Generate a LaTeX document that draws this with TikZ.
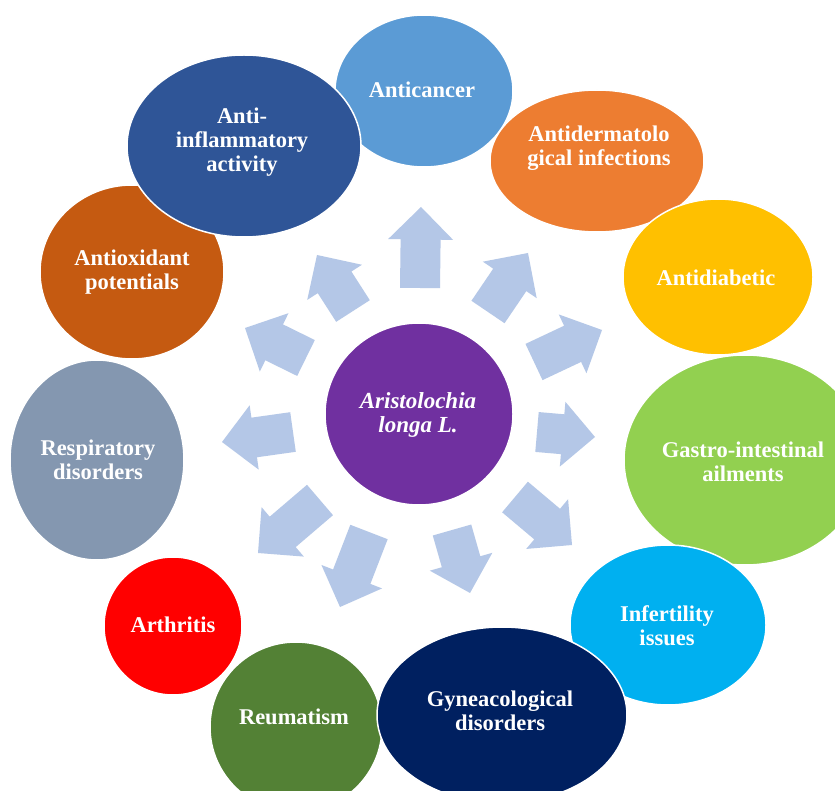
\documentclass[tikz,border=0pt]{standalone}
\usepackage{fontspec}
\setmainfont{Liberation Serif}
\usetikzlibrary{shapes.geometric,calc}
\definecolor{cCancer}{HTML}{5B9BD5}
\definecolor{cInfl}{HTML}{2F5597}
\definecolor{cDerm}{HTML}{ED7D31}
\definecolor{cOxid}{HTML}{C55A11}
\definecolor{cDiab}{HTML}{FFC000}
\definecolor{cGast}{HTML}{92D050}
\definecolor{cInfer}{HTML}{00B0F0}
\definecolor{cGyn}{HTML}{002060}
\definecolor{cReum}{HTML}{538135}
\definecolor{cArth}{HTML}{FF0000}
\definecolor{cResp}{HTML}{8497B0}
\definecolor{cCenter}{HTML}{7030A0}
\definecolor{arrowblue}{HTML}{B4C7E7}
\tikzset{
  bubble/.style={ellipse, draw=white, line width=1.5pt, inner sep=0pt, outer sep=0pt},
  lbl/.style={text=white, align=center, inner sep=0pt,
    font=\fontsize{22.5}{24}\selectfont\bfseries},
  blockfill/.style={fill=arrowblue},
}
\newcommand\myblockarrow[3]{%
  \coordinate (#1-b) at (#2);
  \coordinate (#1-t) at (#3);
  \coordinate (#1-h) at ($(#1-t)!32.5pt!(#1-b)$);
  \fill[blockfill] ($(#1-b)!20pt!90:(#1-t)$) -- ($(#1-h)!20pt!90:(#1-t)$)
    -- ($(#1-h)!32.5pt!90:(#1-t)$) -- (#1-t) -- ($(#1-h)!32.5pt!-90:(#1-t)$)
    -- ($(#1-h)!20pt!-90:(#1-t)$) -- ($(#1-b)!20pt!-90:(#1-t)$) -- cycle;
}
\begin{document}
\begin{tikzpicture}[x=1pt,y=-1pt]
\clip (0,0) rectangle (835,791);
\fill[white] (0,0) rectangle (835,791);
% block arrows
\myblockarrow{aN}{420,288}{421,207}
\myblockarrow{aNW}{353,311}{317,255}
\myblockarrow{aWNW}{306,358}{245,328}
\myblockarrow{aW}{293,432}{222,442}
\myblockarrow{aSW}{320,500}{258,553}
\myblockarrow{aSSW}{369,532}{340,607}
\myblockarrow{aSSE}{452,530}{470,593}
\myblockarrow{aSE}{515,497}{572,545}
\myblockarrow{aE}{537,432}{595,437}
\myblockarrow{aENE}{534,362}{602,330}
\myblockarrow{aNE}{488,312}{528,253}
% bubbles
\node[bubble, fill=cCancer, minimum width=178pt, minimum height=152pt] (cancer) at (424,91) {};
\node[bubble, fill=cOxid, minimum width=184pt, minimum height=174pt] (oxid) at (132,272) {};
\node[bubble, fill=cInfl, minimum width=234pt, minimum height=182pt] (infl) at (244,146) {};
\node[bubble, fill=cDerm, minimum width=214pt, minimum height=142pt] (derm) at (597,161) {};
\node[bubble, fill=cDiab, minimum width=190pt, minimum height=156pt] (diab) at (718,277) {};
\node[bubble, fill=cGast, minimum width=242pt, minimum height=210pt] (gast) at (745,460) {};
\node[bubble, fill=cInfer, minimum width=196pt, minimum height=160pt] (infer) at (668,625) {};
\node[bubble, fill=cArth, minimum width=138pt, minimum height=138pt] (arth) at (173,626) {};
\node[bubble, fill=cReum, minimum width=172pt, minimum height=170pt] (reum) at (296,727) {};
\node[bubble, fill=cGyn, minimum width=250pt, minimum height=176pt] (gyn) at (502,715) {};
\node[bubble, fill=cResp, minimum width=174pt, minimum height=200pt] (resp) at (97,460) {};
\node[bubble, fill=cCenter, minimum width=188pt, minimum height=182pt] (center) at (419,414) {};
% labels
\node[lbl] (cancer-t) at (422,90) {Anticancer};
\node[lbl] (infl-t) at (242,142) {Anti-\\inflammatory\\activity};
\node[lbl] (derm-t) at (599,148) {Antidermatolo\\gical infections};
\node[lbl] (diab-t) at (716,278) {Antidiabetic};
\node[lbl] (gast-t) at (743,462) {Gastro-intestinal\\ailments};
\node[lbl] (infer-t) at (667,626) {Infertility\\issues};
\node[lbl] (gyn-t) at (500,711) {Gyneacological\\disorders};
\node[lbl] (reum-t) at (294,717) {Reumatism};
\node[lbl] (arth-t) at (173,625) {Arthritis};
\node[lbl] (resp-t) at (98,460) {Respiratory\\disorders};
\node[lbl] (oxid-t) at (132,272) {Antioxidant\\potentials};
\node[lbl, font=\fontsize{23}{24}\selectfont\bfseries\itshape] (center-t) at (418,415) {Aristolochia\\longa L.};
\end{tikzpicture}
\end{document}
